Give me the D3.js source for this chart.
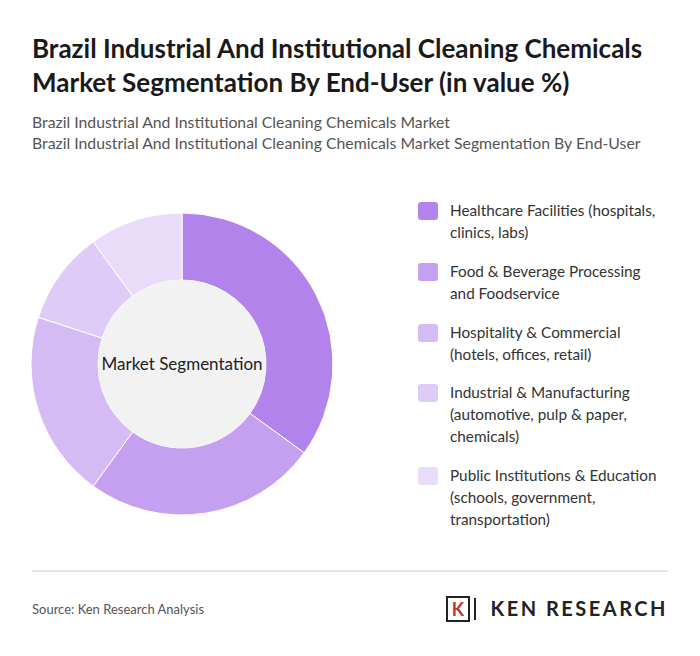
<!DOCTYPE html>
<html><head><meta charset="utf-8">
<script src="https://cdn.jsdelivr.net/npm/d3@7"></script>
<style>body{margin:0;background:#fff;font-family:Lato,"Open Sans",sans-serif}</style>
</head><body>
<script>
let categories = ["Healthcare Facilities (hospitals, clinics, labs)","Food & Beverage Processing and Foodservice","Hospitality & Commercial (hotels, offices, retail)","Industrial & Manufacturing (automotive, pulp & paper, chemicals)","Public Institutions & Education (schools, government, transportation)"]
let legendLines = [["Healthcare Facilities (hospitals,","clinics, labs)"],["Food & Beverage Processing","and Foodservice"],["Hospitality & Commercial","(hotels, offices, retail)"],["Industrial & Manufacturing","(automotive, pulp & paper,","chemicals)"],["Public Institutions & Education","(schools, government,","transportation)"]]
let values = [35, 25, 20, 10, 10]
let colors = ["#b383ec","#c5a0f0","#d5bbf4","#dfcbf7","#e9dcf9"]

let w = 700, h = 656
let svg = d3.select("body").append("svg").attr("width", w).attr("height", h)

svg.append("text").attr("x",32).attr("y",58).text("Brazil Industrial And Institutional Cleaning Chemicals")
  .attr("font-size",26).attr("font-weight","bold").attr("fill","#1a1a1a")
svg.append("text").attr("x",32).attr("y",92).text("Market Segmentation By End-User (in value %)")
  .attr("font-size",26).attr("font-weight","bold").attr("fill","#1a1a1a")
svg.append("text").attr("x",32).attr("y",128).text("Brazil Industrial And Institutional Cleaning Chemicals Market")
  .attr("font-size",15.8).attr("fill","#555")
svg.append("text").attr("x",32).attr("y",149).text("Brazil Industrial And Institutional Cleaning Chemicals Market Segmentation By End-User")
  .attr("font-size",15.8).attr("fill","#555")

let pie = d3.pie().sort(null).value(d=>d)
let arc = d3.arc().innerRadius(84).outerRadius(151)
let g = svg.append("g").attr("transform","translate(182,364)")
g.selectAll("path").data(pie(values)).enter().append("path")
  .attr("d", arc).attr("fill",(d,i)=>colors[i]).attr("stroke","#fff").attr("stroke-width",1)
g.append("circle").attr("r",84).attr("fill","#f2f2f2")
g.append("text").attr("text-anchor","middle").attr("y",6).text("Market Segmentation")
  .attr("font-size",17).attr("fill","#222")

let ys = [202, 263, 324, 384, 467]
let legend = svg.append("g").attr("id","legend")
categories.forEach((c,i)=>{
  legend.append("rect").attr("x",418).attr("y",ys[i]).attr("width",20).attr("height",18).attr("rx",3).attr("fill",colors[i])
  legendLines[i].forEach((l,j)=>{
    legend.append("text").attr("x",450).attr("y",ys[i]+14+j*22).text(l).attr("font-size",15.3).attr("fill","#333")
  })
})

svg.append("line").attr("x1",32).attr("x2",668).attr("y1",571).attr("y2",571).attr("stroke","#ccc")
svg.append("text").attr("x",32).attr("y",614).text("Source: Ken Research Analysis").attr("font-size",13).attr("fill","#555")

let logo = svg.append("g")
logo.append("rect").attr("x",447).attr("y",597).attr("width",22).attr("height",24).attr("fill","none").attr("stroke","#222").attr("stroke-width",2)
logo.append("text").attr("x",458).attr("y",616).attr("text-anchor","middle").text("K").attr("font-size",18).attr("font-weight","bold").attr("fill","#c0392b")
logo.append("line").attr("x1",475).attr("x2",475).attr("y1",598).attr("y2",620).attr("stroke","#222").attr("stroke-width",2)
logo.append("text").attr("x",668).attr("y",616).attr("text-anchor","end").text("KEN RESEARCH")
  .attr("font-size",20).attr("font-weight","bold").attr("fill","#222").attr("letter-spacing",2.5)
</script>
</body></html>
